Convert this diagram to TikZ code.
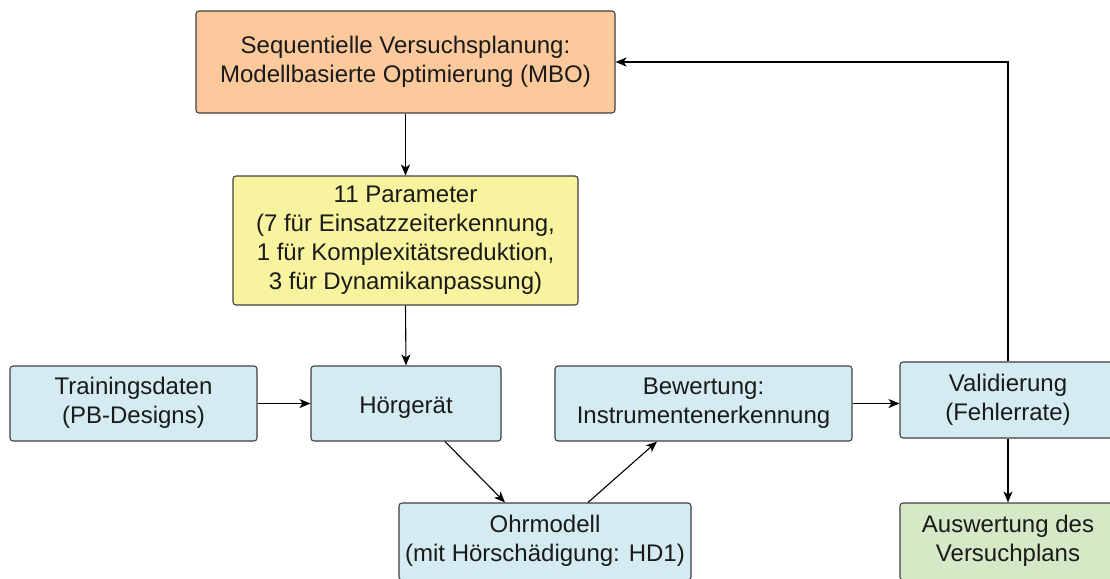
\documentclass[tikz,border=0pt]{standalone}
\usepackage{fontspec}
\setmainfont{Liberation Sans}
\usetikzlibrary{arrows.meta}
\definecolor{bordergray}{RGB}{64,64,64}
\definecolor{peach}{RGB}{251,201,155}
\definecolor{paleyellow}{RGB}{248,243,158}
\definecolor{paleblue}{RGB}{212,235,242}
\definecolor{palegreen}{RGB}{214,233,198}
\definecolor{txt}{RGB}{26,26,26}
% fixed first-line height and last-line depth, so every box centres its text alike
\newcommand\boxtopstrut{\rule{0pt}{26pt}}
\newcommand\boxbotstrut{\rule[-6pt]{0pt}{6pt}}
\begin{document}
\begin{tikzpicture}[x=1pt,y=-1pt,
  box/.style={draw=bordergray, line width=1.1pt, rounded corners=3pt,
    align=center, inner sep=0pt, text=txt,
    font=\fontsize{24}{29}\selectfont,
    execute at begin node=\boxtopstrut,
    execute at end node=\boxbotstrut},
  arr/.style={-{Stealth[length=11pt,width=9pt,inset=3pt]}, line width=1.1pt, draw=black}]
\useasboundingbox (0,0) rectangle (1110,578);
\clip (0,0) rectangle (1110,578);

% planning and parameter boxes
\node[box, fill=peach, minimum width=419pt, minimum height=102pt] (mbo) at (405.5,62)
  {Sequentielle Versuchsplanung:\\Modellbasierte Optimierung (MBO)};
\node[box, fill=paleyellow, minimum width=345pt, minimum height=129pt] (par) at (405.5,240.5)
  {11 Parameter\\(7 für Einsatzzeiterkennung,\\1 für Komplexitätsreduktion,\\3 für Dynamikanpassung)};

% processing chain
\node[box, fill=paleblue, minimum width=247pt, minimum height=75pt] (train) at (133.5,403.5)
  {Trainingsdaten\\(PB-Designs)};
\node[box, fill=paleblue, minimum width=190pt, minimum height=75pt] (hg) at (406,403.5)
  {Hörgerät};
\node[box, fill=paleblue, minimum width=297pt, minimum height=75pt] (bew) at (703.5,403.5)
  {Bewertung:\\Instrumentenerkennung};
\node[box, fill=paleblue, minimum width=216pt, minimum height=76pt] (val) at (1008,400)
  {Validierung\\(Fehlerrate)};
\node[box, fill=paleblue, minimum width=292pt, minimum height=77pt] (ohr) at (545,541.5)
  {Ohrmodell\\(mit Hörschädigung: HD1)};
\node[box, fill=palegreen, minimum width=216pt, minimum height=77pt] (ausw) at (1008,541.5)
  {Auswertung des\\Versuchplans};

% connectors
\draw[arr] (mbo.south) -- (par.north);
\draw[arr] (par.south) -- (hg.north);
\draw[arr] (train.east) -- (hg.west);
\draw[arr] ([xshift=39pt]hg.south) -- ([xshift=-40pt]ohr.north);
\draw[arr] ([xshift=43pt]ohr.north) -- ([xshift=-46.5pt]bew.south);
\draw[arr] (bew.east) -- (bew.east -| val.west);
\draw[arr] (val.south) -- (ausw.north);
\draw[arr] (val.north) |- (mbo.east);
\end{tikzpicture}
\end{document}
